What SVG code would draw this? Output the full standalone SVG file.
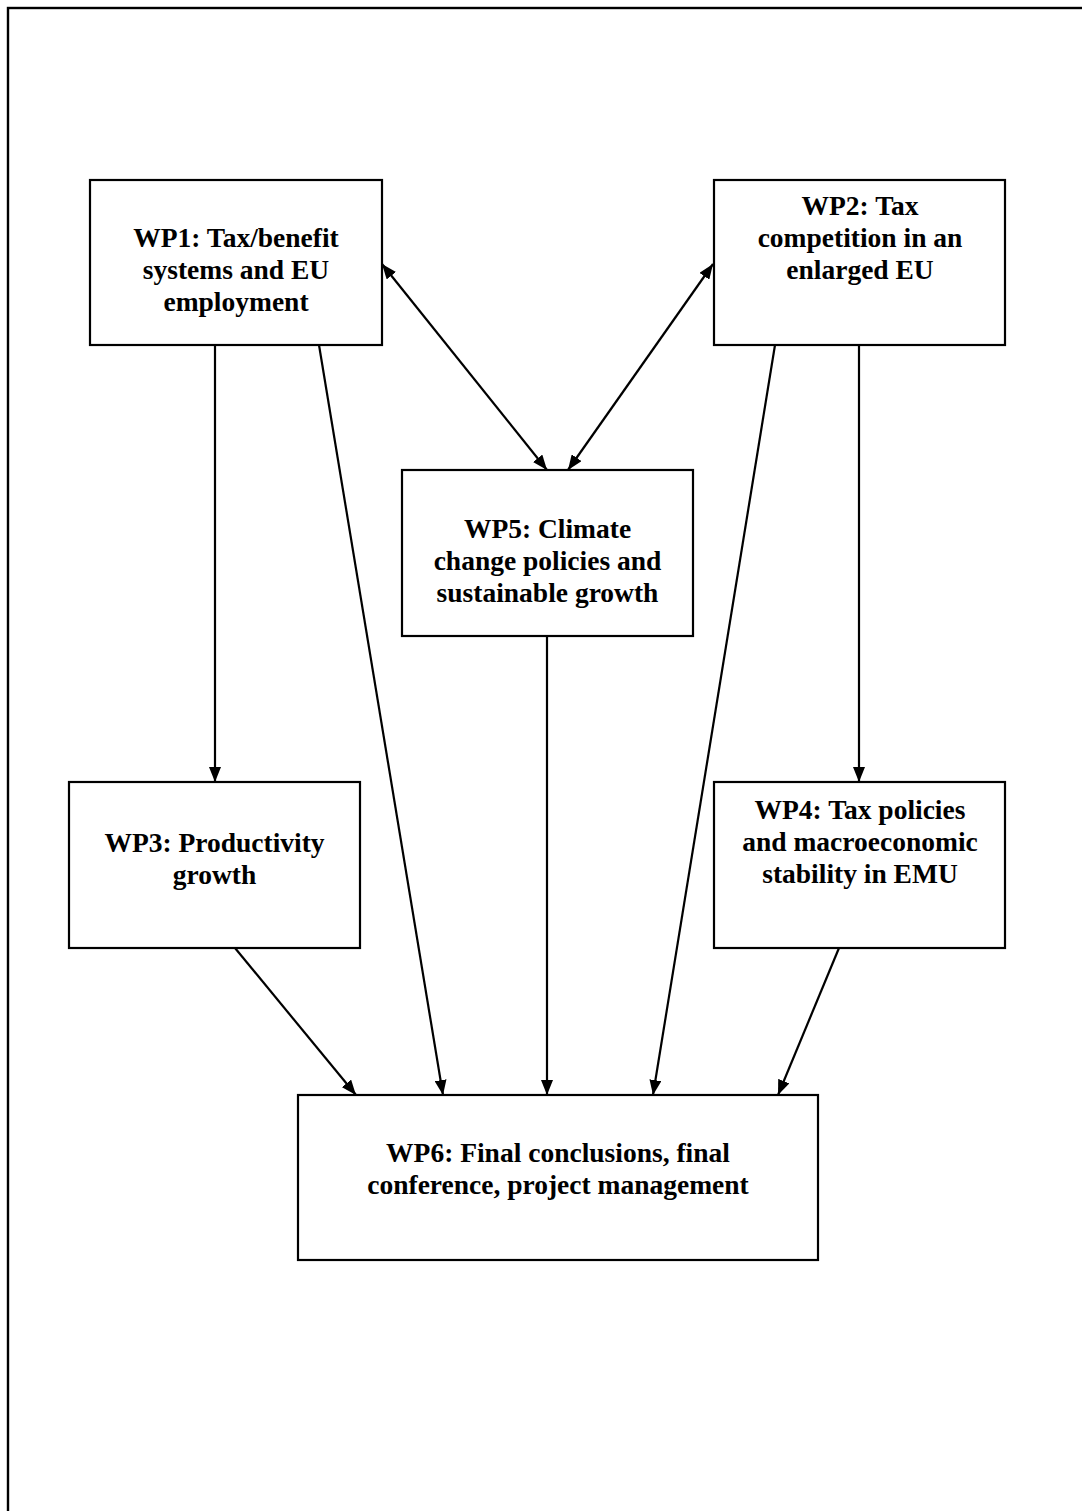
<svg xmlns="http://www.w3.org/2000/svg" width="1082" height="1511" viewBox="0 0 1082 1511">
<style>
.box{fill:#fff;stroke:#000;stroke-width:2.2}
.lbl{font-family:"Liberation Serif","Times New Roman",serif;font-weight:bold;font-size:27.5px;fill:#000;text-anchor:middle}
.con{stroke:#000;stroke-width:2.2;fill:none}
.one{marker-end:url(#ah)}
.two{marker-end:url(#ah);marker-start:url(#ah)}
</style>
<defs>
<marker id="ah" viewBox="0 0 15 12" refX="15" refY="6" markerWidth="15" markerHeight="12" markerUnits="userSpaceOnUse" orient="auto-start-reverse">
<path d="M0,0 L15,6 L0,12 Z" fill="#000"/>
</marker>
</defs>
<rect x="0" y="0" width="1082" height="1511" fill="#fff"/>
<rect x="8" y="8" width="1100" height="1530" fill="none" stroke="#000" stroke-width="2.4"/>
<g id="connectors">
<line class="con one" x1="215" y1="345" x2="215" y2="782"/>
<line class="con one" x1="319" y1="345" x2="443" y2="1095"/>
<line class="con two" x1="382" y1="264" x2="547" y2="470"/>
<line class="con two" x1="713" y1="264" x2="568" y2="470"/>
<line class="con one" x1="547" y1="636" x2="547" y2="1095"/>
<line class="con one" x1="775" y1="345" x2="653" y2="1095"/>
<line class="con one" x1="859" y1="345" x2="859" y2="782"/>
<line class="con one" x1="235" y1="948" x2="356" y2="1095"/>
<line class="con one" x1="839" y1="948" x2="778" y2="1095"/>
</g>
<g id="wp1">
<rect class="box" x="90" y="180" width="292" height="165"/>
<text class="lbl" x="236" y="247">WP1: Tax/benefit</text>
<text class="lbl" x="236" y="279">systems and EU</text>
<text class="lbl" x="236" y="311">employment</text>
</g>
<g id="wp2">
<rect class="box" x="714" y="180" width="291" height="165"/>
<text class="lbl" x="860" y="215">WP2: Tax</text>
<text class="lbl" x="860" y="247">competition in an</text>
<text class="lbl" x="860" y="279">enlarged EU</text>
</g>
<g id="wp5">
<rect class="box" x="402" y="470" width="291" height="166"/>
<text class="lbl" x="547.5" y="538">WP5: Climate</text>
<text class="lbl" x="547.5" y="570">change policies and</text>
<text class="lbl" x="547.5" y="602">sustainable growth</text>
</g>
<g id="wp3">
<rect class="box" x="69" y="782" width="291" height="166"/>
<text class="lbl" x="214.5" y="852">WP3: Productivity</text>
<text class="lbl" x="214.5" y="884">growth</text>
</g>
<g id="wp4">
<rect class="box" x="714" y="782" width="291" height="166"/>
<text class="lbl" x="860" y="819">WP4: Tax policies</text>
<text class="lbl" x="860" y="851">and macroeconomic</text>
<text class="lbl" x="860" y="883">stability in EMU</text>
</g>
<g id="wp6">
<rect class="box" x="298" y="1095" width="520" height="165"/>
<text class="lbl" x="558" y="1162">WP6: Final conclusions, final</text>
<text class="lbl" x="558" y="1194">conference, project management</text>
</g>
</svg>
